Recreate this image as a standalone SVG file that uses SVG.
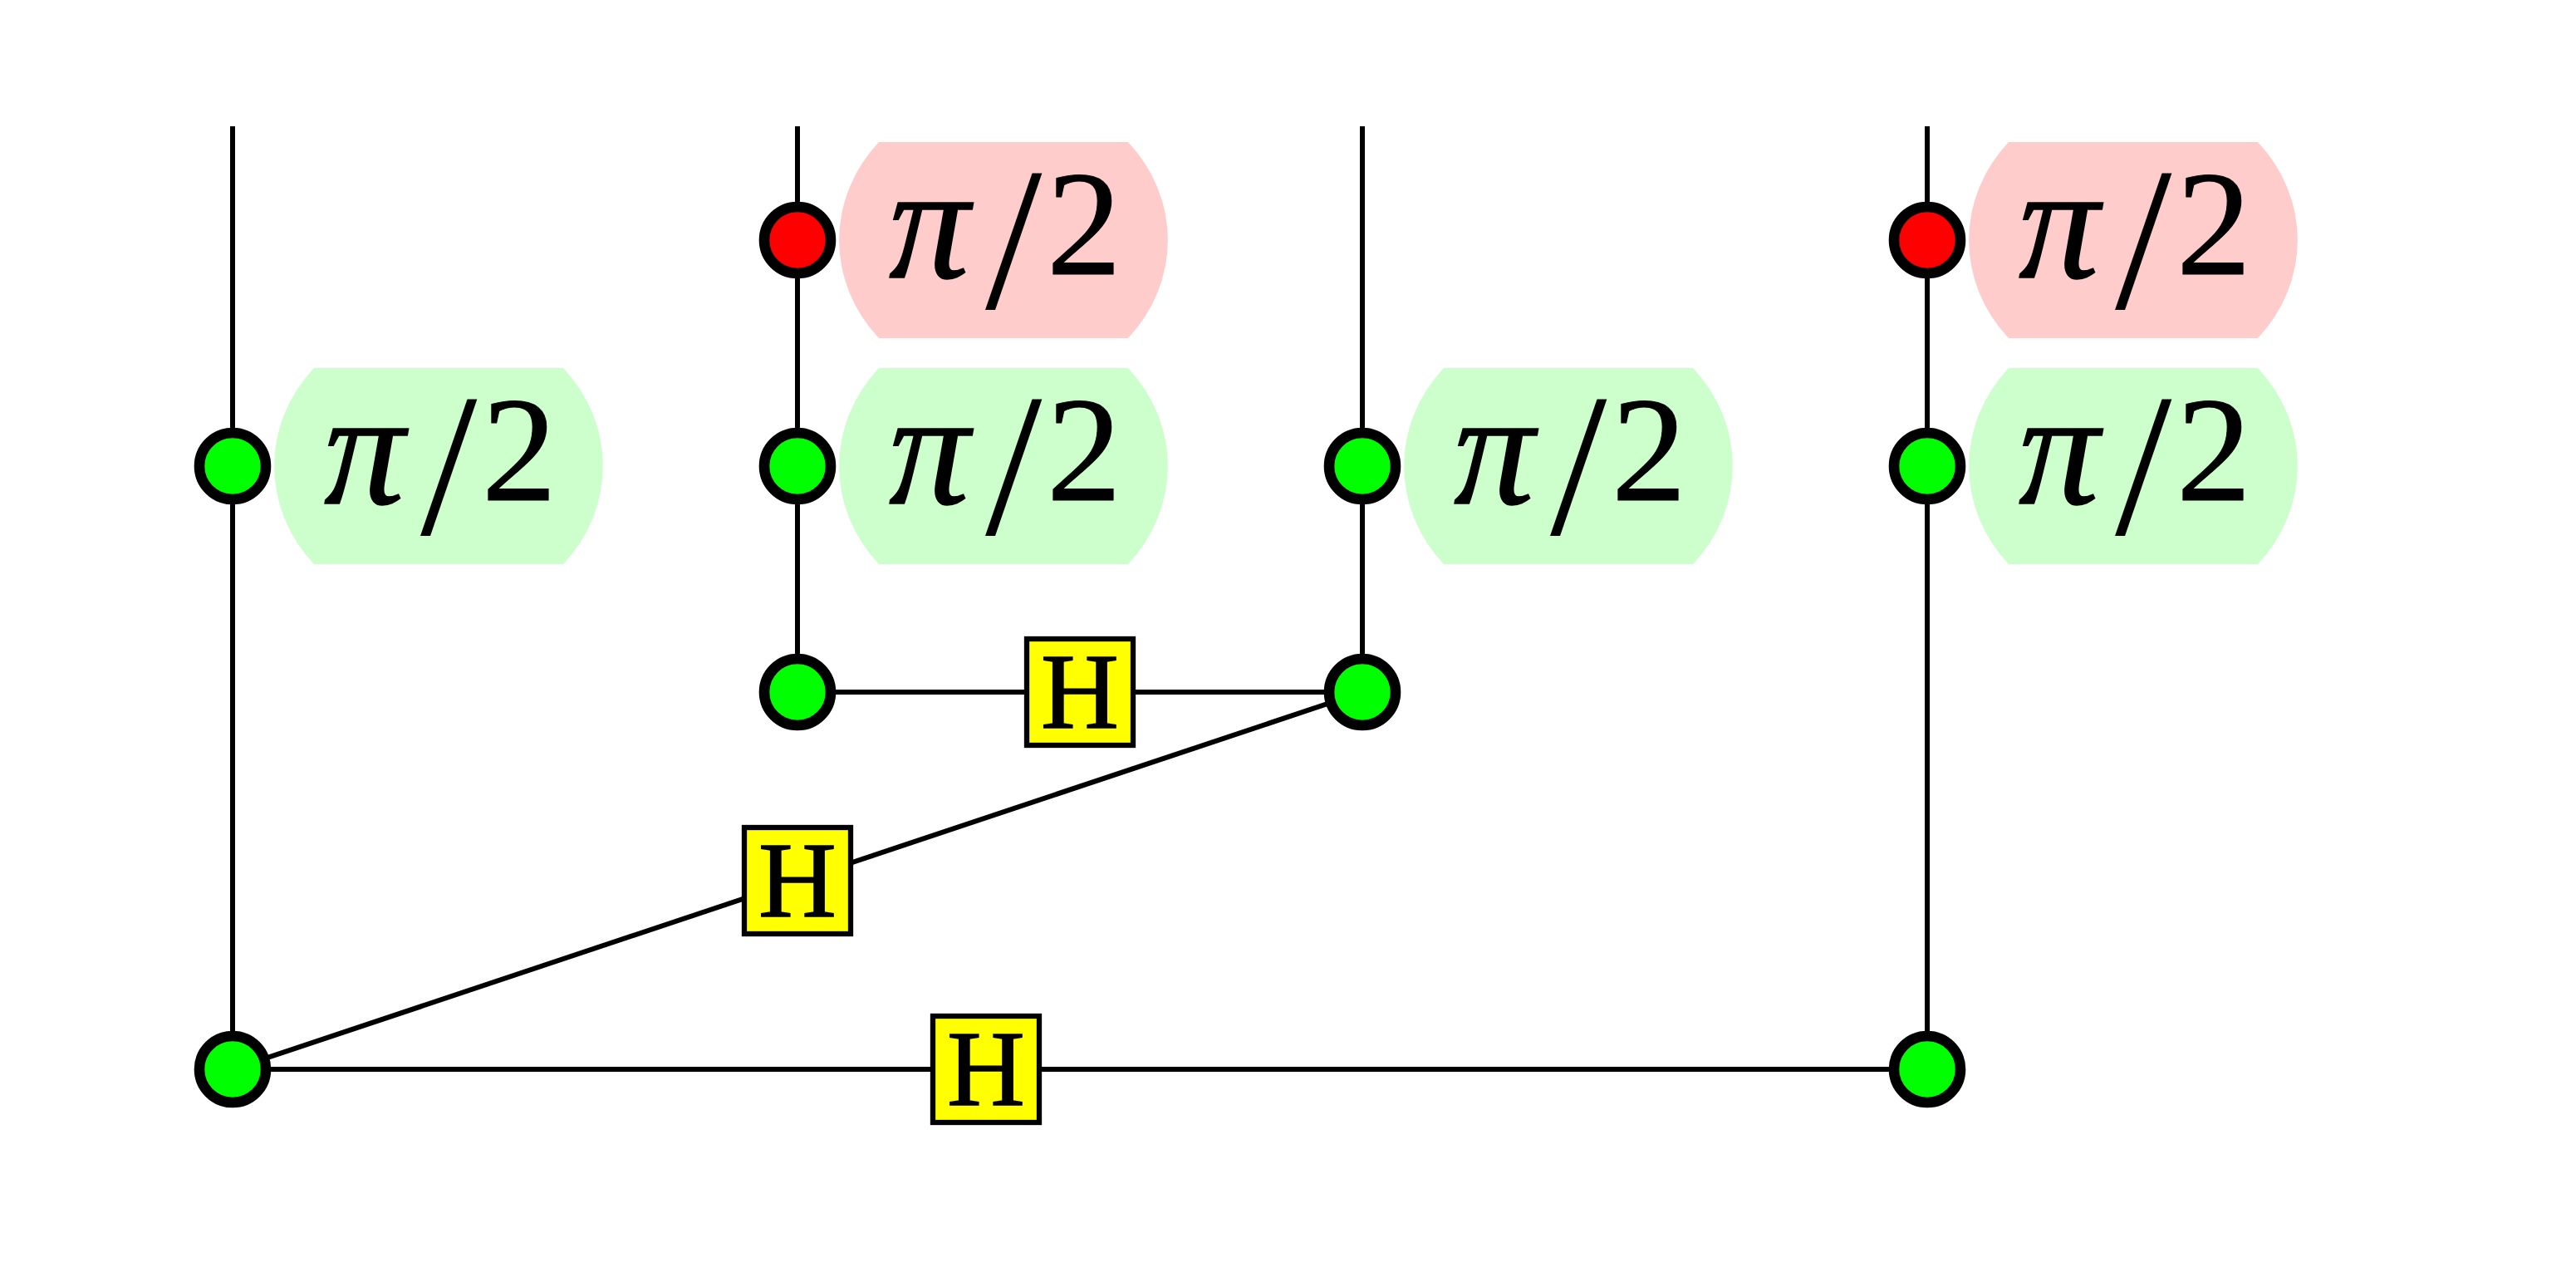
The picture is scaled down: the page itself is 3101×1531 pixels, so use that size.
<svg xmlns="http://www.w3.org/2000/svg" xmlns:xlink="http://www.w3.org/1999/xlink" width="3101" height="1531" viewBox="0 0 3101 1531">
<style>
.wire{stroke:#000;stroke-width:6;fill:none}
.spider{stroke:#000;stroke-width:12.6}
.z{fill:#00ff00}
.x{fill:#ff0000}
.zl{fill:#ccffcc}
.xl{fill:#ffcccc}
.had{fill:#ffff00;stroke:#000;stroke-width:6.3}
.ht{font-size:130px;text-anchor:middle;stroke:#000;stroke-width:1.5}
.pi{font-style:italic;font-size:194px;stroke:#000;stroke-width:1.5}
.sl{font-size:246px}
.two{font-size:180px;stroke:#000;stroke-width:1}
</style>
<defs>
<path id="lbl" d="M -150 -118 H 150 A 198 181 0 0 1 150 118 H -150 A 198 181 0 0 1 -150 -118 Z"/>
</defs>
<rect width="3101" height="1531" fill="#fff"/>
<g id="connectors">
<line class="wire" x1="280" y1="152" x2="280" y2="1287"/>
<line class="wire" x1="960" y1="152" x2="960" y2="833"/>
<line class="wire" x1="1640" y1="152" x2="1640" y2="833"/>
<line class="wire" x1="2320" y1="152" x2="2320" y2="1287"/>
<line class="wire" x1="960" y1="833" x2="1640" y2="833"/>
<line class="wire" x1="280" y1="1287" x2="1640" y2="833"/>
<line class="wire" x1="280" y1="1287" x2="2320" y2="1287"/>
</g>
<g font-family="Liberation Serif, Times New Roman, serif">
<g id="n1">
<use xlink:href="#lbl" href="#lbl" x="528" y="561" class="zl"/>
<text y="606"><tspan class="pi" x="390">π</tspan><tspan class="sl" x="506" y="643">/</tspan><tspan class="two" x="580" y="602">2</tspan></text>
<circle class="spider z" cx="280" cy="561" r="40"/>
</g>
<g id="n2">
<circle class="spider z" cx="280" cy="1287" r="40"/>
</g>
<g id="n3">
<use xlink:href="#lbl" href="#lbl" x="1208" y="289" class="xl"/>
<text y="334"><tspan class="pi" x="1070">π</tspan><tspan class="sl" x="1186" y="371">/</tspan><tspan class="two" x="1260" y="330">2</tspan></text>
<circle class="spider x" cx="960" cy="289" r="40"/>
</g>
<g id="n4">
<use xlink:href="#lbl" href="#lbl" x="1208" y="561" class="zl"/>
<text y="606"><tspan class="pi" x="1070">π</tspan><tspan class="sl" x="1186" y="643">/</tspan><tspan class="two" x="1260" y="602">2</tspan></text>
<circle class="spider z" cx="960" cy="561" r="40"/>
</g>
<g id="n5">
<circle class="spider z" cx="960" cy="833" r="40"/>
</g>
<g id="n6">
<use xlink:href="#lbl" href="#lbl" x="1888" y="561" class="zl"/>
<text y="606"><tspan class="pi" x="1750">π</tspan><tspan class="sl" x="1866" y="643">/</tspan><tspan class="two" x="1940" y="602">2</tspan></text>
<circle class="spider z" cx="1640" cy="561" r="40"/>
</g>
<g id="n7">
<circle class="spider z" cx="1640" cy="833" r="40"/>
</g>
<g id="n8">
<use xlink:href="#lbl" href="#lbl" x="2568" y="289" class="xl"/>
<text y="334"><tspan class="pi" x="2430">π</tspan><tspan class="sl" x="2546" y="371">/</tspan><tspan class="two" x="2620" y="330">2</tspan></text>
<circle class="spider x" cx="2320" cy="289" r="40"/>
</g>
<g id="n9">
<use xlink:href="#lbl" href="#lbl" x="2568" y="561" class="zl"/>
<text y="606"><tspan class="pi" x="2430">π</tspan><tspan class="sl" x="2546" y="643">/</tspan><tspan class="two" x="2620" y="602">2</tspan></text>
<circle class="spider z" cx="2320" cy="561" r="40"/>
</g>
<g id="n10">
<circle class="spider z" cx="2320" cy="1287" r="40"/>
</g>
<g id="h1">
<rect class="had" x="1236" y="769" width="128" height="128"/>
<text class="ht" x="1300" y="876">H</text>
</g>
<g id="h2">
<rect class="had" x="896" y="996" width="128" height="128"/>
<text class="ht" x="960" y="1103">H</text>
</g>
<g id="h3">
<rect class="had" x="1123" y="1223" width="128" height="128"/>
<text class="ht" x="1187" y="1330">H</text>
</g>
</g>
</svg>
